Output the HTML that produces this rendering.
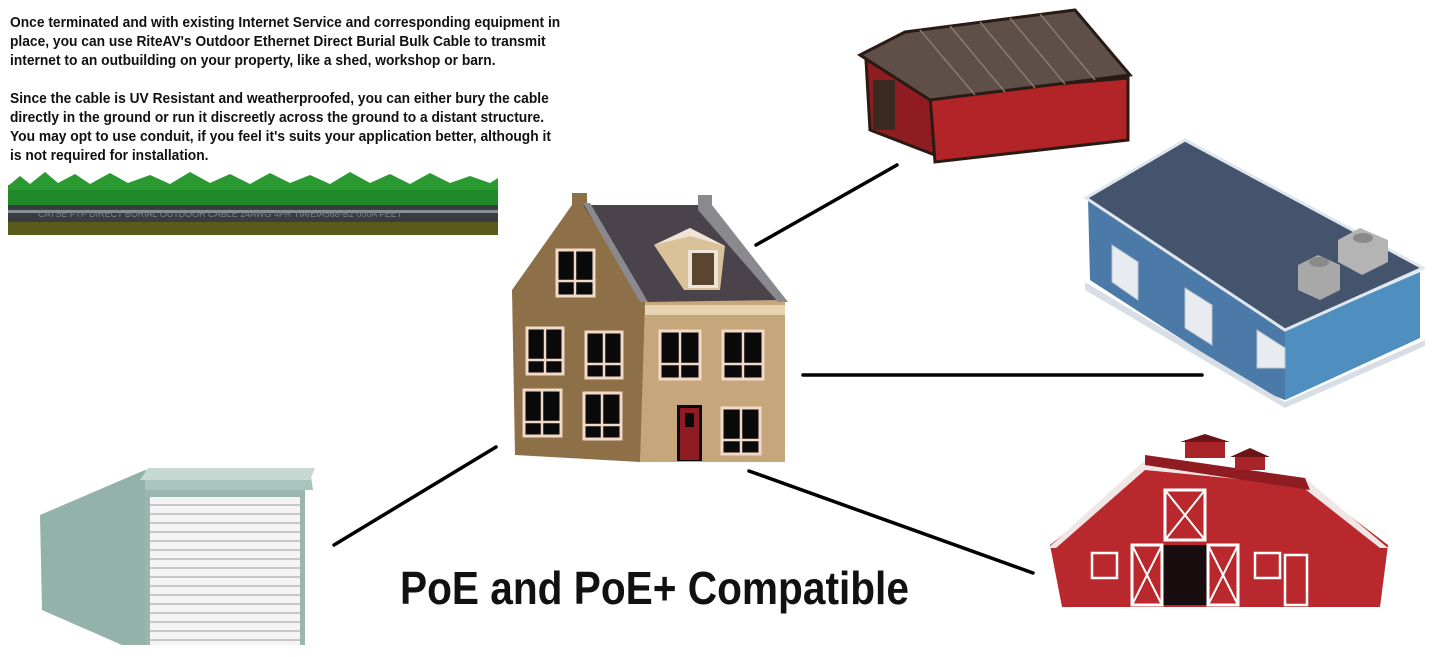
<!DOCTYPE html>
<html><head><meta charset="utf-8"><style>
html,body{margin:0;padding:0;background:#fff;}
.wrap{position:relative;width:1445px;height:657px;overflow:hidden;}
.txt{position:absolute;left:10px;top:14px;font-family:"Liberation Sans Narrow","Liberation Sans",sans-serif;font-weight:bold;font-size:14.6px;line-height:19px;color:#111;white-space:nowrap;transform-origin:0 0;transform:scaleX(0.945);}
.title{position:absolute;left:400px;top:560px;font-family:"Liberation Sans Narrow","Liberation Sans",sans-serif;font-weight:bold;font-size:46px;line-height:56px;color:#111;white-space:nowrap;transform-origin:0 0;transform:scaleX(0.883);}
svg{position:absolute;left:0;top:0;}
</style></head><body><div class="wrap">
<svg width="1445" height="657" viewBox="0 0 1445 657">
<rect x="8" y="185" width="490" height="22" fill="#1f8a2a"/>
<path d="M8 186 L20 176 L30 184 L45 172 L58 183 L75 174 L90 184 L110 173 L128 183 L150 175 L170 184 L190 172 L210 183 L230 174 L250 184 L270 173 L290 183 L310 175 L330 184 L350 172 L370 183 L390 174 L410 184 L430 173 L450 183 L470 176 L490 183 L498 178 L498 190 L8 190Z" fill="#2a9a30"/>
<rect x="8" y="205" width="490" height="17" fill="#3a3d40"/>
<rect x="8" y="210" width="490" height="3" fill="#8a8f94"/>
<text x="38" y="217" font-family="Liberation Sans" font-size="9" fill="#7c8186">CATSE FTP DIRECT BURIAL OUTDOOR CABLE 24AWG 4PR TIA/EIA568-B2 000A FEET</text>
<rect x="8" y="222" width="490" height="13" fill="#5a5a1a"/>
<g stroke="#000" stroke-width="3.5" stroke-linecap="round">
<line x1="756" y1="245" x2="897" y2="165"/>
<line x1="803" y1="375" x2="1202" y2="375"/>
<line x1="749" y1="471" x2="1033" y2="573"/>
<line x1="496" y1="447" x2="334" y2="545"/>
</g>
<polygon points="640,300 785,300 785,462 640,462" fill="#c6a77c"/>
<polygon points="512,290 572,205 572,193 587,193 587,205 645,302 640,462 515,455" fill="#8e7048"/>
<polygon points="583,205 698,205 782,300 645,302" fill="#4a434b"/>
<polygon points="583,203 590,203 648,302 640,302" fill="#8a8a8e"/>
<polygon points="698,195 712,195 712,205 788,302 778,302 698,210" fill="#8a8a8e"/>
<rect x="645" y="305" width="140" height="10" fill="#e6d3b0"/>
<polygon points="654,245 690,228 725,246 720,290 684,290" fill="#d9c19a"/>
<polygon points="654,245 690,228 725,246 690,236" fill="#eee5d8"/>
<rect x="688" y="250" width="30" height="38" fill="#eee5d8"/><rect x="692" y="253" width="22" height="32" fill="#5a4530"/>
<g fill="#0a0a0a" stroke="#f2d9c8" stroke-width="3">
<rect x="557" y="250" width="37" height="46"/>
<rect x="527" y="328" width="36" height="46"/><rect x="586" y="332" width="36" height="46"/>
<rect x="524" y="390" width="37" height="46"/><rect x="584" y="393" width="37" height="46"/>
<rect x="660" y="331" width="40" height="48"/><rect x="723" y="331" width="40" height="48"/>
<rect x="722" y="408" width="38" height="46"/>
</g>
<g stroke="#f2d9c8" stroke-width="2.5">
<line x1="575" y1="250" x2="575" y2="296"/><line x1="557" y1="281" x2="594" y2="281"/>
<line x1="545" y1="328" x2="545" y2="374"/><line x1="527" y1="360" x2="563" y2="360"/>
<line x1="604" y1="332" x2="604" y2="378"/><line x1="586" y1="364" x2="622" y2="364"/>
<line x1="542" y1="390" x2="542" y2="436"/><line x1="524" y1="422" x2="561" y2="422"/>
<line x1="602" y1="393" x2="602" y2="439"/><line x1="584" y1="425" x2="621" y2="425"/>
<line x1="680" y1="331" x2="680" y2="379"/><line x1="660" y1="364" x2="700" y2="364"/>
<line x1="743" y1="331" x2="743" y2="379"/><line x1="723" y1="364" x2="763" y2="364"/>
<line x1="741" y1="408" x2="741" y2="454"/><line x1="722" y1="440" x2="760" y2="440"/>
</g>
<rect x="677" y="405" width="25" height="56" fill="#0a0a0a"/><rect x="680" y="408" width="19" height="52" fill="#8e1c22"/><rect x="685" y="413" width="9" height="14" fill="#0a0a0a"/>
<polygon points="866,60 930,30 935,155 870,130" fill="#8e1c20" stroke="#2a1a14" stroke-width="3"/>
<rect x="873" y="80" width="22" height="50" fill="#3a2a20"/>
<polygon points="930,95 1128,78 1128,140 935,162" fill="#b22428" stroke="#2a1a14" stroke-width="3"/>
<polygon points="860,55 905,32 1075,10 1130,75 930,100" fill="#5e5048" stroke="#2a1a14" stroke-width="3"/>
<g stroke="#8a7a70" stroke-width="1.5">
<line x1="920" y1="30" x2="975" y2="95"/><line x1="950" y1="26" x2="1005" y2="92"/><line x1="980" y1="22" x2="1035" y2="88"/><line x1="1010" y1="18" x2="1065" y2="84"/><line x1="1040" y1="14" x2="1095" y2="80"/>
</g>
<polygon points="1088,198 1090,280 1260,390 1285,400 1285,330 1180,262" fill="#4c7aa8"/>
<polygon points="1285,330 1420,272 1420,338 1285,400" fill="#4f8fc0"/>
<polygon points="1086,198 1185,140 1423,268 1285,330" fill="#44546c" stroke="#dfe6ee" stroke-width="3"/>
<polygon points="1085,282 1285,402 1425,340 1425,346 1285,408 1085,290" fill="#d8dee6"/>
<g fill="#e8ecf0" stroke="#bcc4cc"><polygon points="1112,245 1138,262 1138,300 1112,282"/><polygon points="1185,288 1212,305 1212,345 1185,328"/><polygon points="1257,330 1285,348 1285,368 1257,368"/></g>
<polygon points="1298,265 1318,255 1340,265 1340,290 1320,300 1298,290" fill="#a8a8a8"/>
<polygon points="1338,240 1360,228 1388,240 1388,262 1362,275 1338,262" fill="#b4b4b4"/>
<ellipse cx="1319" cy="262" rx="10" ry="5" fill="#8a8a8a"/><ellipse cx="1363" cy="238" rx="10" ry="5" fill="#8a8a8a"/>
<polygon points="1050,545 1145,468 1300,478 1388,545 1380,607 1062,607" fill="#b8282c"/>
<polygon points="1048,548 1145,460 1305,478 1388,548 1380,548 1300,485 1145,470 1056,548" fill="#f0e6e6"/>
<polygon points="1145,455 1305,478 1310,490 1145,465" fill="#8e1c20"/>
<rect x="1185" y="440" width="40" height="18" fill="#a82428"/><polygon points="1180,442 1205,434 1230,442" fill="#6a1418"/>
<rect x="1235" y="455" width="30" height="15" fill="#a82428"/><polygon points="1230,457 1250,448 1270,457" fill="#6a1418"/>
<rect x="1165" y="490" width="40" height="50" fill="#b8282c" stroke="#fff" stroke-width="3"/>
<line x1="1165" y1="490" x2="1205" y2="540" stroke="#fff" stroke-width="2"/><line x1="1205" y1="490" x2="1165" y2="540" stroke="#fff" stroke-width="2"/>
<rect x="1162" y="545" width="46" height="60" fill="#180e10"/>
<rect x="1132" y="545" width="30" height="60" fill="#b8282c" stroke="#fff" stroke-width="3"/>
<rect x="1208" y="545" width="30" height="60" fill="#b8282c" stroke="#fff" stroke-width="3"/>
<line x1="1132" y1="545" x2="1162" y2="605" stroke="#fff" stroke-width="2"/><line x1="1162" y1="545" x2="1132" y2="605" stroke="#fff" stroke-width="2"/>
<line x1="1208" y1="545" x2="1238" y2="605" stroke="#fff" stroke-width="2"/><line x1="1238" y1="545" x2="1208" y2="605" stroke="#fff" stroke-width="2"/>
<rect x="1092" y="553" width="25" height="25" fill="#b8282c" stroke="#fff" stroke-width="2.5"/>
<rect x="1255" y="553" width="25" height="25" fill="#b8282c" stroke="#fff" stroke-width="2.5"/>
<rect x="1285" y="555" width="22" height="50" fill="#b8282c" stroke="#fff" stroke-width="2.5"/>
<polygon points="40,515 145,470 145,645 122,645 42,610" fill="#93b2aa"/>
<polygon points="145,470 310,470 313,490 145,490" fill="#a8c4bc"/>
<polygon points="140,480 148,468 315,468 310,480" fill="#c8d8d2"/>
<rect x="145" y="490" width="160" height="155" fill="#9ab6ae"/>
<rect x="150" y="497" width="150" height="148" fill="#f4f4f4"/>
<g stroke="#9a9a9a" stroke-width="1">
<line x1="150" y1="505" x2="300" y2="505"/><line x1="150" y1="514" x2="300" y2="514"/><line x1="150" y1="523" x2="300" y2="523"/><line x1="150" y1="532" x2="300" y2="532"/><line x1="150" y1="541" x2="300" y2="541"/><line x1="150" y1="550" x2="300" y2="550"/><line x1="150" y1="559" x2="300" y2="559"/><line x1="150" y1="568" x2="300" y2="568"/><line x1="150" y1="577" x2="300" y2="577"/><line x1="150" y1="586" x2="300" y2="586"/><line x1="150" y1="595" x2="300" y2="595"/><line x1="150" y1="604" x2="300" y2="604"/><line x1="150" y1="613" x2="300" y2="613"/><line x1="150" y1="622" x2="300" y2="622"/><line x1="150" y1="631" x2="300" y2="631"/><line x1="150" y1="640" x2="300" y2="640"/>
</g>
</svg>
<div class="txt">Once terminated and with existing Internet Service and corresponding equipment in<br>place, you can use RiteAV's Outdoor Ethernet Direct Burial Bulk Cable to transmit<br>internet to an outbuilding on your property, like a shed, workshop or barn.<br><br>Since the cable is UV Resistant and weatherproofed, you can either bury the cable<br>directly in the ground or run it discreetly across the ground to a distant structure.<br>You may opt to use conduit, if you feel it's suits your application better, although it<br>is not required for installation.</div>
<div class="title">PoE and PoE+ Compatible</div>
</div></body></html>
